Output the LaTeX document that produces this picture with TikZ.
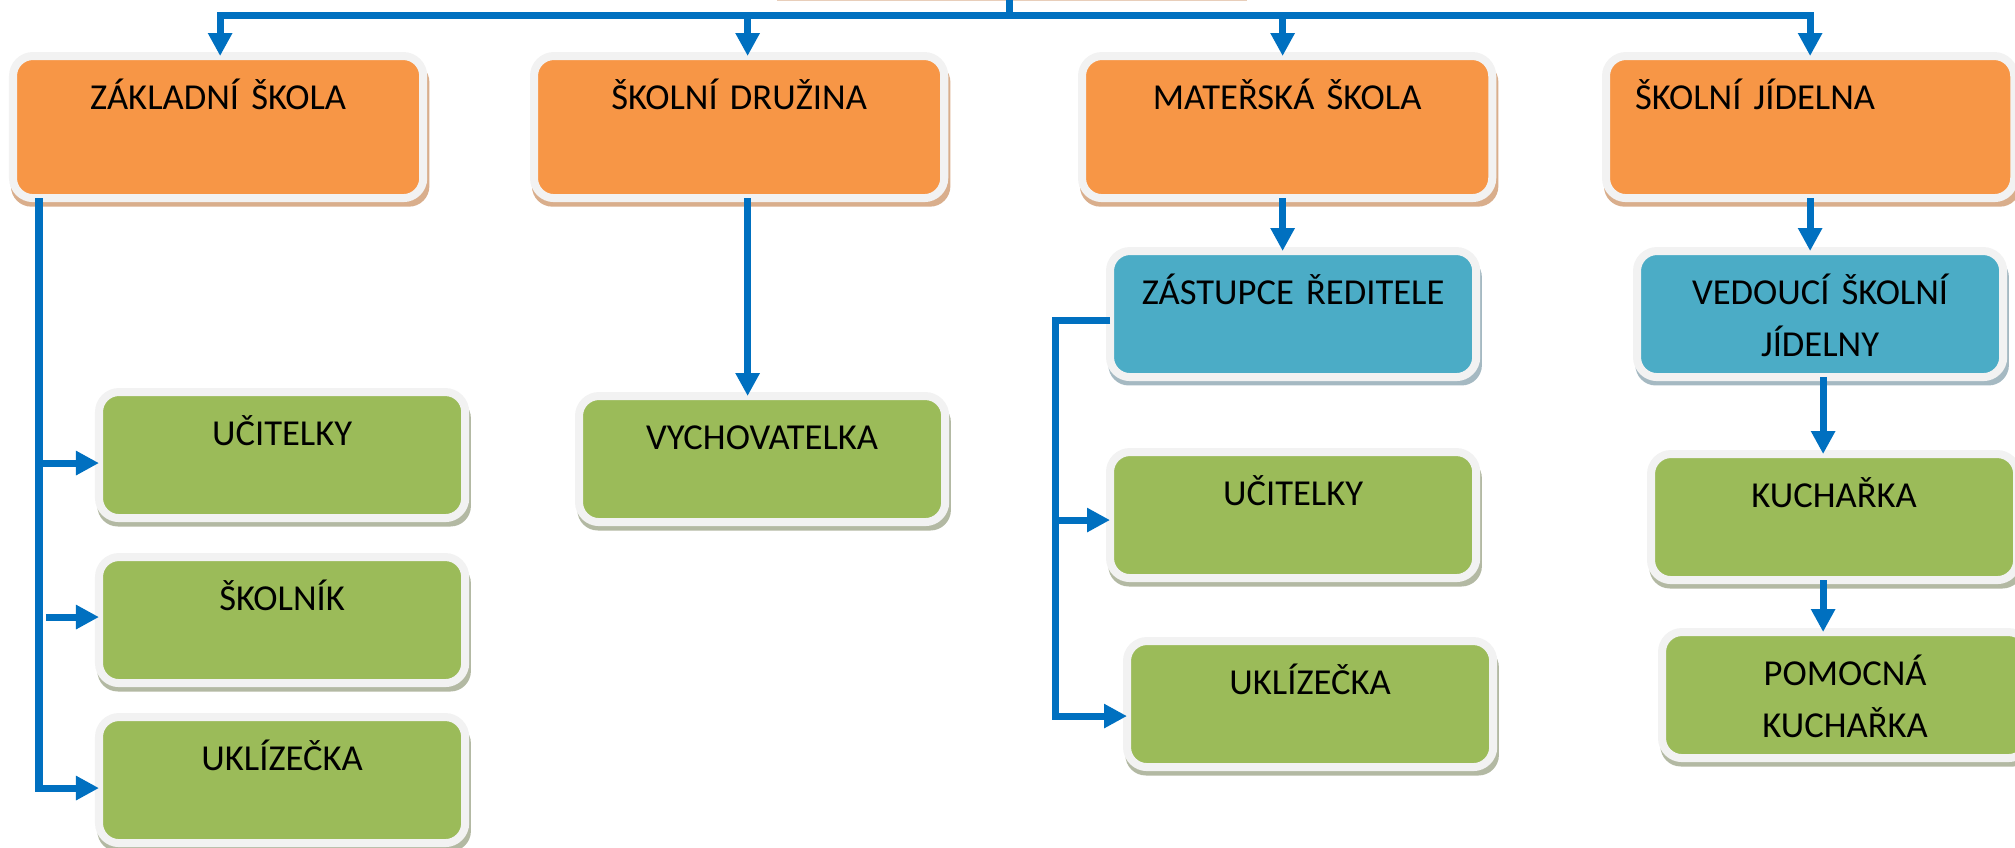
\documentclass[tikz,border=0pt]{standalone}
\usepackage{fontspec}
\setmainfont{Carlito}
\usepackage{xcolor}
\definecolor{headorange}{HTML}{F79646}
\definecolor{leadblue}{HTML}{4BACC6}
\definecolor{staffgreen}{HTML}{9BBB59}
\definecolor{rim}{HTML}{F2F2F2}
\definecolor{wire}{HTML}{0070C0}
\definecolor{orangeshade}{HTML}{D9AE8C}
\definecolor{blueshade}{HTML}{A5B9C2}
\definecolor{greenshade}{HTML}{B3B9A3}
\usepackage{tikz}
\usetikzlibrary{arrows.meta, positioning, shadows}

\begin{document}
\begin{tikzpicture}[x=0.01cm, y=-0.01cm,
  unit/.style={anchor=north west, outer sep=0pt, inner sep=0pt, rounded corners=0.2cm,
    draw=rim, line width=0.08cm, align=center, text width=3.66cm,
    text height=0.53cm, text depth=0.73cm, font=\fontsize{10.4}{14.8}\selectfont},
  section/.style={unit, fill=headorange, text width=4.1cm, text depth=0.89cm,
    general shadow={fill=orangeshade, shadow xshift=0.02cm, shadow yshift=-0.07cm, shadow scale=1.02}},
  lead/.style={unit, fill=leadblue,
    general shadow={fill=blueshade, shadow xshift=0.02cm, shadow yshift=-0.07cm, shadow scale=1.02}},
  staff/.style={unit, fill=staffgreen,
    general shadow={fill=greenshade, shadow xshift=0.02cm, shadow yshift=-0.07cm, shadow scale=1.02}},
  link/.style={wire, line width=0.07cm},
  flow/.style={link, -{Triangle[width=0.23cm, length=0.23cm]}}]
  \useasboundingbox (0,0) rectangle (2015,847);
  \clip (0,0) rectangle (2015,847);

  % Root box, only its lower edge shows
  \fill[orangeshade!60] (777,-10) rectangle (1247,1);
  \coordinate (root) at (1009,0);
  \coordinate (bus) at (1009,15);

  % Sections
  \node[section] (zs) at (13,56) {ZÁKLADNÍ ŠKOLA};
  \node[section] (sd) at (534,56) {ŠKOLNÍ DRUŽINA};
  \node[section] (ms) at (1082,56) {MATEŘSKÁ ŠKOLA};
  \node[section, align=left, inner xsep=0.29cm, text width=3.5cm] (sj) at (1606,56) {ŠKOLNÍ JÍDELNA};

  % Leaders
  \node[lead] (zr) at (1110,251) {ZÁSTUPCE ŘEDITELE};
  \node[lead] (vj) at (1637,251) {VEDOUCÍ ŠKOLNÍ\\JÍDELNY};

  % Staff - základní škola
  \node[staff] (uc1) at (99,392) {UČITELKY};
  \node[staff] (sk) at (99,557) {ŠKOLNÍK};
  \node[staff] (uk1) at (99,717) {UKLÍZEČKA};

  % Staff - družina
  \node[staff] (vy) at (579,396) {VYCHOVATELKA};

  % Staff - mateřská škola
  \node[staff] (uc2) at (1110,452) {UČITELKY};
  \node[staff] (uk2) at (1127,641) {UKLÍZEČKA};

  % Staff - jídelna
  \node[staff] (ku) at (1651,454) {KUCHAŘKA};
  \node[staff] (pk) at (1662,632) {POMOCNÁ\\KUCHAŘKA};

  % Top bus
  \draw[link] (root) -- (bus);
  \draw[flow] (bus) -| ([xshift=0.02cm]zs.north);
  \draw[flow] (bus) -| ([xshift=0.085cm]sd.north);
  \draw[flow] (bus) -| ([xshift=-0.045cm]ms.north);
  \draw[flow] (bus) -| (sj.north);

  % Základní škola branch
  \coordinate (zsrail) at (39,0);
  \draw[flow] (zs.south -| zsrail) |- ([yshift=-0.08cm]uk1.west);
  \draw[flow] ([yshift=-0.08cm]uc1.west -| zsrail) -- ([yshift=-0.08cm]uc1.west);
  \draw[flow] ([xshift=-0.53cm, yshift=0.03cm]sk.west) -- ([yshift=0.03cm]sk.west);

  % Družina branch
  \draw[flow] ([xshift=0.085cm]sd.south) -- ([xshift=0.085cm]sd.south |- vy.north);

  % Mateřská škola branch
  \coordinate (msrail) at (1055,0);
  \draw[flow] ([xshift=-0.045cm]ms.south) -- ([xshift=-0.045cm]ms.south |- zr.north);
  \draw[flow] ([yshift=-0.06cm]zr.west) -| ([yshift=-0.12cm]msrail |- uk2.west) -- ([yshift=-0.12cm]uk2.west);
  \draw[flow] ([yshift=-0.05cm]msrail |- uc2.west) -- ([yshift=-0.05cm]uc2.west);

  % Jídelna branch
  \draw[flow] (sj.south) -- (sj.south |- vj.north);
  \draw[flow] ([xshift=0.03cm]vj.south) -- ([xshift=0.03cm]vj.south |- ku.north);
  \draw[flow] ([xshift=0.03cm]vj.south |- ku.south) -- ([xshift=0.03cm]vj.south |- pk.north);
\end{tikzpicture}
\end{document}
